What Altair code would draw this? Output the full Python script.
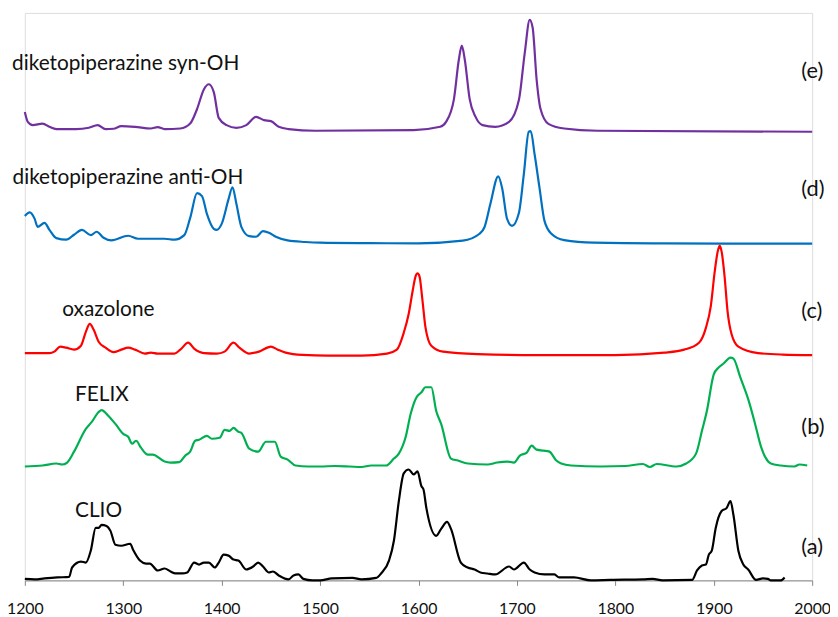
import altair as alt
import pandas as pd

# ---------------- data ----------------
series_names = ["CLIO", "FELIX", "oxazolone",
                "diketopiperazine anti-OH", "diketopiperazine syn-OH"]
series_tags = ["(a)", "(b)", "(c)", "(d)", "(e)"]
series_colors = ["#000000", "#00B050", "#FF0000", "#0070C0", "#7030A0"]
offsets = [0, 115, 227, 340, 453]

clio_wn = [1200, 1210, 1220, 1233, 1245, 1248, 1257, 1262, 1267, 1272, 1275, 1278, 1283, 1287,
           1292, 1298, 1307, 1310, 1317, 1323, 1327, 1335, 1342, 1348, 1353, 1360, 1365, 1372,
           1377, 1382, 1387, 1393, 1397, 1402, 1407, 1412, 1417, 1425, 1432, 1437, 1442, 1448,
           1452, 1458, 1468, 1473, 1478, 1483, 1492, 1500, 1512, 1533, 1542, 1557, 1562, 1570,
           1575, 1580, 1585, 1590, 1595, 1599, 1603, 1605, 1608, 1618, 1623, 1629, 1633, 1643,
           1650, 1657, 1663, 1670, 1678, 1692, 1697, 1707, 1713, 1718, 1728, 1738, 1743, 1758,
           1775, 1795, 1828, 1838, 1848, 1878, 1883, 1888, 1892, 1895, 1898, 1902, 1908, 1913,
           1917, 1920, 1925, 1930, 1935, 1943, 1950, 1955, 1958, 1968, 1972]
clio_int = [1.5, 1, 2, 3, 3.5, 13, 19, 18, 30, 53, 53, 56, 55, 50,
            36, 35, 37, 31, 20, 17, 17, 10, 12, 9, 7, 7, 8, 18,
            16, 18, 18, 13, 18, 26, 25, 21, 20, 11, 14, 18, 14, 8,
            9, 5, 1, 5, 6, 1.5, 0, 0, 2, 2.5, 1, 2.5, 7, 20,
            40, 80, 108, 112, 107, 110, 95, 92, 73, 45, 52, 59, 52, 18,
            13, 11, 8, 7, 6, 14, 11, 18, 11, 8, 6, 6, 3, 3,
            0, 0.5, 1, 1.5, 0, 0.5, 10, 15, 16, 26, 30, 53, 70, 73,
            80, 66, 30, 16, 11, 0.5, 2, 1.5, 0, 0, 3]

felix_wn = [1200, 1218, 1232, 1238, 1243, 1250, 1262, 1268, 1275, 1278, 1285, 1292, 1300, 1305,
            1309, 1313, 1318, 1325, 1330, 1342, 1348, 1357, 1363, 1368, 1373, 1377, 1385, 1390,
            1398, 1403, 1408, 1412, 1417, 1420, 1428, 1437, 1445, 1454, 1460, 1467, 1475, 1488,
            1500, 1515, 1530, 1542, 1552, 1567, 1575, 1580, 1587, 1592, 1598, 1603, 1607, 1613,
            1618, 1623, 1633, 1640, 1650, 1670, 1680, 1690, 1697, 1703, 1710, 1715, 1720, 1727,
            1733, 1740, 1745, 1755, 1785, 1810, 1828, 1835, 1842, 1862, 1872, 1882, 1888, 1893,
            1900, 1905, 1910, 1917, 1920, 1927, 1935, 1942, 1948, 1958, 1968, 1982, 1987, 1995]
felix_int = [0, 1, 3, 2, 4, 15, 38, 45, 55, 57, 51, 43, 33, 30,
             23, 26, 19, 12, 12, 5, 4, 4.5, 11, 15, 26, 27, 31, 28,
             29, 37, 36, 39, 35, 34, 18, 15, 25, 25, 10, 7, 1, 0,
             0, 0.5, 0, -0.5, 1, 1, 8, 13, 30, 53, 70, 75, 80, 80,
             56, 43, 8, 6, 3, 2, 4, 5, 4, 11, 14, 21, 17, 16,
             15, 6, 3, 1, 0, 0.5, 2.5, -0.5, 2.5, 0, 3, 13, 36, 56,
             93, 100, 104, 110, 109, 90, 68, 43, 20, 3, 1, 0, 2, 1]

oxa_wn = [1200, 1225, 1230, 1236, 1242, 1250, 1257, 1262, 1266, 1270, 1275, 1282, 1290, 1298,
          1305, 1312, 1322, 1328, 1335, 1352, 1358, 1366, 1372, 1382, 1395, 1403, 1412, 1418,
          1428, 1438, 1450, 1457, 1465, 1482, 1508, 1542, 1568, 1578, 1585, 1590, 1594, 1597,
          1599, 1601, 1604, 1607, 1613, 1625, 1660, 1720, 1800, 1850, 1870, 1885, 1892, 1897,
          1901, 1904, 1906, 1908, 1911, 1914, 1918, 1925, 1945, 1970, 2000]
oxa_int = [2.5, 2.5, 4, 9, 8, 6, 10, 24, 32, 26, 14, 8, 3.5, 6,
           8, 6, 2, 3, 2, 2, 6, 13, 7, 2.5, 2, 4, 13, 8,
           2, 4, 9, 6, 3, 0.7, 0, 0, 2, 6, 23, 42, 65, 80,
           83, 80, 56, 29, 10, 4, 1.5, 0.5, 0.5, 3, 6, 13, 28, 50,
           85, 105, 111, 105, 80, 45, 22, 9, 2.5, 1, 0.5]

anti_wn = [1200, 1205, 1210, 1213, 1220, 1225, 1232, 1242, 1250, 1258, 1267, 1273, 1280, 1288,
           1305, 1315, 1328, 1342, 1352, 1362, 1368, 1375, 1380, 1385, 1392, 1395, 1400, 1407,
           1411, 1415, 1420, 1428, 1435, 1442, 1448, 1455, 1467, 1485, 1500, 1550, 1600, 1645,
           1662, 1667, 1673, 1681, 1685, 1690, 1695, 1702, 1707, 1712, 1714, 1718, 1723, 1728,
           1735, 1748, 1778, 1850, 2000]
anti_int = [28, 31.6, 25, 17, 21, 14, 5.6, 4, 9, 14, 8.6, 12, 6, 3.3,
            8, 5, 5, 5, 4, 8.6, 26, 51, 48, 30, 15, 14, 20, 45,
            57, 40, 17, 7.6, 7, 12.6, 11, 7, 3.3, 1.7, 1, 0.5, 0.3, 3,
            10, 16.6, 40, 68, 56, 25, 18, 31, 70, 113, 113.6, 90, 56, 23,
            10, 3.6, 1, 0.3, 0]

syn_wn = [1200, 1203, 1208, 1218, 1225, 1232, 1252, 1265, 1274, 1282, 1290, 1298, 1312, 1328,
          1335, 1342, 1358, 1368, 1375, 1382, 1387, 1392, 1397, 1405, 1415, 1425, 1435, 1443,
          1450, 1458, 1468, 1495, 1595, 1622, 1628, 1636, 1641, 1644, 1647, 1652, 1658, 1665,
          1678, 1692, 1702, 1708, 1713, 1716, 1720, 1724, 1732, 1748, 1782, 2000]
syn_int = [20, 10, 6.7, 8.3, 5, 2.7, 2.7, 4, 6.7, 2.7, 3, 5.7, 5, 3.3,
           4.7, 2.7, 3.3, 8.3, 23, 43, 48, 40, 14, 6.7, 4, 6.7, 15, 11.7,
           10.7, 5, 2.7, 1, 1.7, 5, 10, 33, 73, 87, 73, 33, 15, 6.7,
           5, 10, 32, 80, 113, 105, 53, 23, 8, 3.3, 1, 0]

x_ticks = [1200, 1300, 1400, 1500, 1600, 1700, 1800, 1900, 2000]

# ---------------- tables ----------------
spectra = [(clio_wn, clio_int), (felix_wn, felix_int), (oxa_wn, oxa_int),
           (anti_wn, anti_int), (syn_wn, syn_int)]
rows = []
for name, off, (wn, inten) in zip(series_names, offsets, spectra):
    for w, v in zip(wn, inten):
        rows.append({"wn": w, "y": v + off, "series": name})
df = pd.DataFrame(rows)

# annotation placement (layout only)
left_label_x = [1251, 1251, 1238, 1187.5, 1187]
left_label_y = [64, 181, 267, 400, 515]
right_label_y = [34, 155, 272, 395, 514]
left_df = pd.DataFrame({"x": left_label_x, "y": left_label_y, "text": series_names})
right_df = pd.DataFrame({"x": [1989] * 5, "y": right_label_y, "text": series_tags})

xscale = alt.Scale(domain=[1200, 2000], nice=False, zero=False)
yscale = alt.Scale(domain=[0, 573], nice=False, zero=False)

lines = alt.Chart(df).mark_line(strokeWidth=2.2, interpolate="monotone").encode(
    x=alt.X("wn:Q", scale=xscale,
            axis=alt.Axis(title=None, values=x_ticks, format="d", grid=False,
                          domainColor="#868686", tickColor="#868686", tickSize=5,
                          labelFont="Lato", labelFontSize=16, labelColor="#111111",
                          labelPadding=15, labelFlush=False, labelOverlap=False)),
    y=alt.Y("y:Q", scale=yscale, axis=None),
    color=alt.Color("series:N", scale=alt.Scale(domain=series_names, range=series_colors),
                    legend=None),
    detail="series:N",
)

left_text = alt.Chart(left_df).mark_text(
    align="left", baseline="alphabetic", font="Lato", fontSize=21, color="#111111"
).encode(x=alt.X("x:Q", scale=xscale), y=alt.Y("y:Q", scale=yscale), text="text:N")

right_text = alt.Chart(right_df).mark_text(
    align="left", baseline="middle", font="Lato", fontSize=22, color="#111111"
).encode(x=alt.X("x:Q", scale=xscale), y=alt.Y("y:Q", scale=yscale), text="text:N")

chart = alt.layer(lines, left_text, right_text).properties(
    width=795, height=573,
    autosize=alt.AutoSizeParams(type="none"),
    padding={"left": 17, "top": 2, "right": 18, "bottom": 34},
).configure_view(strokeWidth=0).configure(background="white")

chart.save("out.html", embed_options={"renderer": "svg", "actions": False})
